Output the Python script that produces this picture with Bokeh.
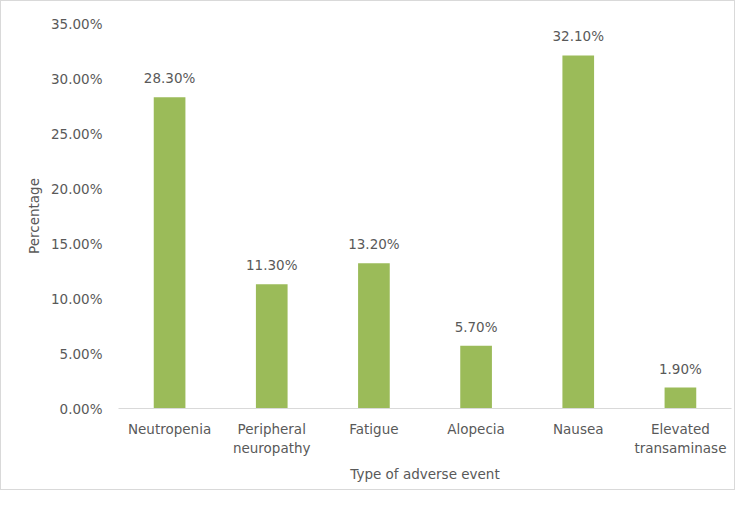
from bokeh.plotting import figure
from bokeh.models import ColumnDataSource, LabelSet, Range1d, FixedTicker
from bokeh.core.properties import value
from bokeh.embed import file_html
from bokeh.resources import INLINE

categories = ["Neutropenia", "Peripheral\nneuropathy", "Fatigue", "Alopecia", "Nausea", "Elevated\ntransaminase"]
values = [28.3, 11.3, 13.2, 5.7, 32.1, 1.9]
y_ticks = [0, 5, 10, 15, 20, 25, 30, 35]

FONT = "DejaVu Sans"
TXT = "#595959"
SIZE = "13.5px"

src = ColumnDataSource(dict(cat=categories, val=values,
                            lab=["%.2f%%" % v for v in values]))

p = figure(x_range=categories, y_range=Range1d(0, 35), width=735, height=490,
           output_backend="svg", toolbar_location=None,
           min_border_left=117, min_border_right=5, min_border_top=22, min_border_bottom=83)
p.vbar(x="cat", top="val", width=0.31, source=src, color="#9BBB59", line_color=None)

labels = LabelSet(x="cat", y="val", text="lab", source=src, text_align="center",
                  text_baseline="alphabetic", y_offset=14, text_color=TXT,
                  text_font=value(FONT), text_font_size=value(SIZE))
p.add_layout(labels)

p.grid.visible = False
p.outline_line_color = None
p.background_fill_color = "white"
p.border_fill_color = "white"
p.styles = {"border": "1px solid #D9D9D9"}

p.yaxis.ticker = FixedTicker(ticks=y_ticks)
p.yaxis.major_label_overrides = {t: "%.2f%%" % t for t in y_ticks}
p.yaxis.axis_line_color = None
p.yaxis.major_tick_line_color = None
p.yaxis.minor_tick_line_color = None
p.yaxis.major_tick_out = 0
p.yaxis.major_label_standoff = 16
p.yaxis.axis_label = "Percentage"
p.yaxis.axis_label_standoff = 6

p.xaxis.axis_line_color = "#D9D9D9"
p.xaxis.major_tick_line_color = None
p.xaxis.minor_tick_line_color = None
p.xaxis.major_tick_out = 0
p.xaxis.major_label_standoff = 12
p.xaxis.axis_label = "Type of adverse event"
p.xaxis.axis_label_standoff = 7

for ax in (p.xaxis, p.yaxis):
    ax.major_label_text_font = FONT
    ax.major_label_text_font_size = SIZE
    ax.major_label_text_color = TXT
    ax.axis_label_text_font = FONT
    ax.axis_label_text_font_size = SIZE
    ax.axis_label_text_font_style = "normal"
    ax.axis_label_text_color = TXT

open("out.html", "w").write(file_html(p, INLINE))
